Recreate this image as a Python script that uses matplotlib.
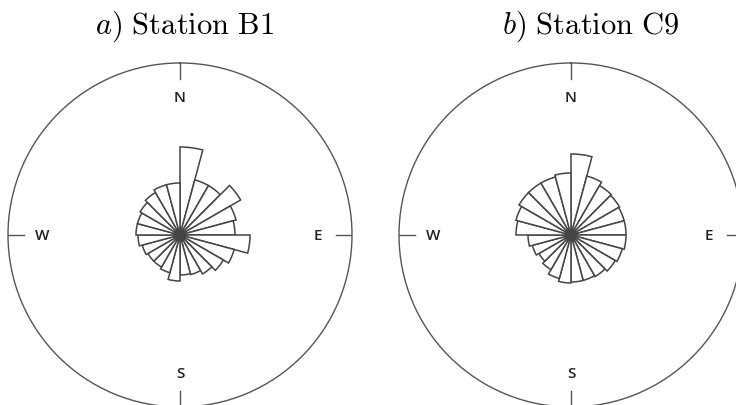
import matplotlib
matplotlib.use("Agg")

import numpy as np
import matplotlib.pyplot as plt

plt.rcParams['mathtext.fontset'] = 'cm'

#petal lengths per 15 degree sector, clockwise from north
sectors = np.arange(0, 360, 15)
b1 = [88, 57, 57, 70, 58, 55, 70, 56, 50, 45, 41, 40,
      46, 39, 37, 37, 39, 42, 44, 44, 46, 49, 52, 52]
c9 = [81, 61, 57, 56, 55, 55, 55, 53, 51, 48, 47, 47,
      48, 45, 40, 37, 40, 43, 55, 57, 60, 60, 60, 62]
titles = [r"$a)\ \mathrm{Station\ B1}$", r"$b)\ \mathrm{Station\ C9}$"]
compass = ["N", "E", "S", "W"]

R = 172  #outer circle radius (same units as petals)

fig = plt.figure(figsize=(7.36, 4.06), dpi=100)

def rose(left, vals):
    ax = fig.add_axes([left, -0.0049, 344 / 736, 344 / 406], projection='polar')
    ax.set_theta_zero_location('N')
    ax.set_theta_direction(-1)
    ax.bar(np.deg2rad(sectors), vals, width=np.deg2rad(15), align='edge',
           facecolor='white', edgecolor='#444444', linewidth=1.1)
    ax.set_ylim(0, R)
    ax.grid(False)
    ax.set_xticks([])
    ax.set_yticks([])
    ax.spines['polar'].set_color('#555555')
    ax.spines['polar'].set_linewidth(1.0)
    #compass ticks and letters
    for i, lab in enumerate(compass):
        t = np.deg2rad(90 * i)
        ax.plot([t, t], [R - 16, R], color='#555555', lw=1.0)
        ax.text(t, 138, lab, ha='center', va='center', fontsize=11,
                family='Open Sans', fontweight='semibold', color='#222222')
    return ax

rose(8 / 736, b1)
rose(399 / 736, c9)

fig.text(185 / 736, 1 - 34 / 406, titles[0], ha='center', va='baseline', fontsize=22)
fig.text(591 / 736, 1 - 34 / 406, titles[1], ha='center', va='baseline', fontsize=22)

fig.savefig("out.png", dpi=100)
